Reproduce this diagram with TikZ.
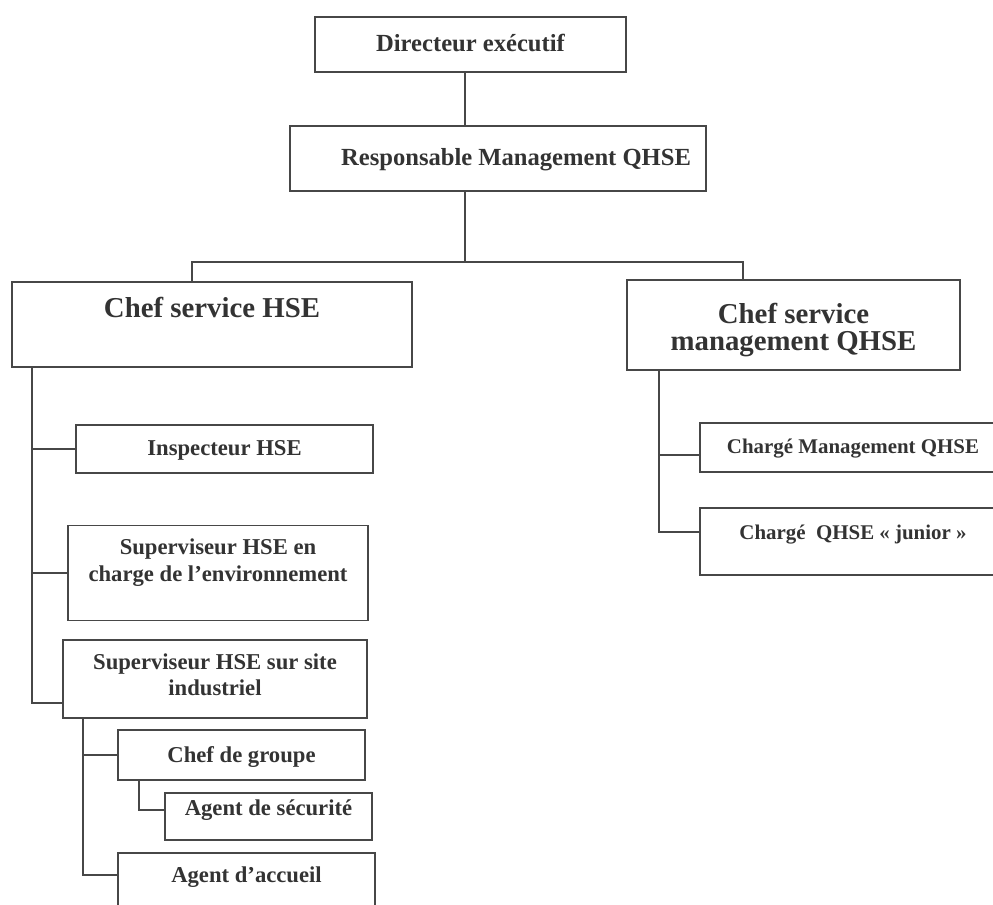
\documentclass[tikz,border=0pt]{standalone}
\usepackage{fontspec}
\setmainfont{Liberation Serif}
\definecolor{ink}{HTML}{333333}
\definecolor{rule}{HTML}{474747}
\begin{document}
\begin{tikzpicture}[x=0.02cm,y=-0.02cm]
\tikzstyle{orgbox}=[draw=rule,line width=1pt,rectangle,inner sep=0pt,align=center,text=ink,text height=0.4cm]
\tikzstyle{topbox}=[orgbox,font=\bfseries\fontsize{14}{16}\selectfont]
\tikzstyle{chefbox}=[orgbox,font=\bfseries\fontsize{16.4}{15.5}\selectfont]
\tikzstyle{unitbox}=[orgbox,font=\bfseries\fontsize{12.9}{15.2}\selectfont]
\tikzstyle{smallbox}=[orgbox,font=\bfseries\fontsize{11.9}{14}\selectfont]
\tikzstyle{link}=[draw=rule,line width=1pt]

\useasboundingbox (0,0) rectangle (993,905);
\clip (0,0) rectangle (993,905);

% direction
\node[topbox,minimum width=6.22cm,minimum height=1.1cm,text depth=0.136cm] (dir) at (470.5,44.5) {Directeur exécutif};
\node[topbox,minimum height=1.3cm,inner xsep=0.3cm,text width=7.72cm,align=flush right,text depth=0.136cm] (resp) at (498,158.5) {Responsable Management QHSE};

% chefs de service
\node[chefbox,minimum width=8cm,minimum height=1.7cm,text depth=0.67cm] (hse) at (212,324.5) {Chef service HSE};
\node[chefbox,minimum width=6.66cm,minimum height=1.8cm,text height=1.012cm,text depth=0cm] (mgmt) at (793.5,325) {Chef service\\management QHSE};

% service HSE
\node[unitbox,minimum width=5.94cm,minimum height=0.96cm,text depth=0.128cm] (insp) at (224.5,449) {Inspecteur HSE};
\node[unitbox,minimum width=6cm,minimum height=1.9cm,text depth=0.068cm] (supenv) at (218,573) {Superviseur HSE en\\charge de l’environnement};
\node[unitbox,minimum width=6.08cm,minimum height=1.56cm,text height=0.672cm,text depth=0cm] (supsite) at (215,679) {Superviseur HSE sur site\\industriel};
\node[unitbox,minimum width=4.94cm,minimum height=1cm,text depth=0.1cm] (grp) at (241.5,755) {Chef de groupe};
\node[unitbox,minimum width=4.14cm,minimum height=0.94cm,text depth=0.43cm] (secu) at (268.5,816.5) {Agent de sécurité};
\node[unitbox,minimum width=5.14cm,minimum height=1.24cm,text depth=0.46cm] (accueil) at (246.5,884) {Agent d’accueil};

% service management QHSE
\node[smallbox,minimum width=6.12cm,minimum height=0.98cm,text depth=0.152cm] (chm) at (853,447.5) {Chargé Management QHSE};
\node[smallbox,minimum width=6.12cm,minimum height=1.34cm,text depth=0.5cm] (jun) at (853,541.5) {Chargé~ QHSE « junior »};

% liaisons du haut
\coordinate (bus) at (465,262);
\coordinate (busL) at (192,262);
\coordinate (busR) at (743,262);
\draw[link] (bus |- dir.south) -- (bus |- resp.north);
\draw[link] (bus |- resp.south) -- (bus);
\draw[link] (busL |- hse.north) -- (busL) -- (busR) -- (busR |- mgmt.north);

% liaisons service HSE
\coordinate (spL) at (32,703);
\draw[link] (spL |- hse.south) -- (spL) -- (spL -| supsite.west);
\foreach \n in {insp,supenv}
  \draw[link] (spL |- \n.west) -- (\n.west);
\coordinate (spS) at (83,875);
\draw[link] (spS |- supsite.south) -- (spS) -- (spS -| accueil.west);
\draw[link] (spS |- grp.west) -- (grp.west);
\coordinate (spG) at (139,810);
\draw[link] (spG |- grp.south) -- (spG) -- (spG -| secu.west);

% liaisons service management QHSE
\coordinate (spR) at (659,532);
\coordinate (brM) at (659,455);
\draw[link] (spR |- mgmt.south) -- (spR) -- (spR -| jun.west);
\draw[link] (brM) -- (brM -| chm.west);
\end{tikzpicture}
\end{document}
